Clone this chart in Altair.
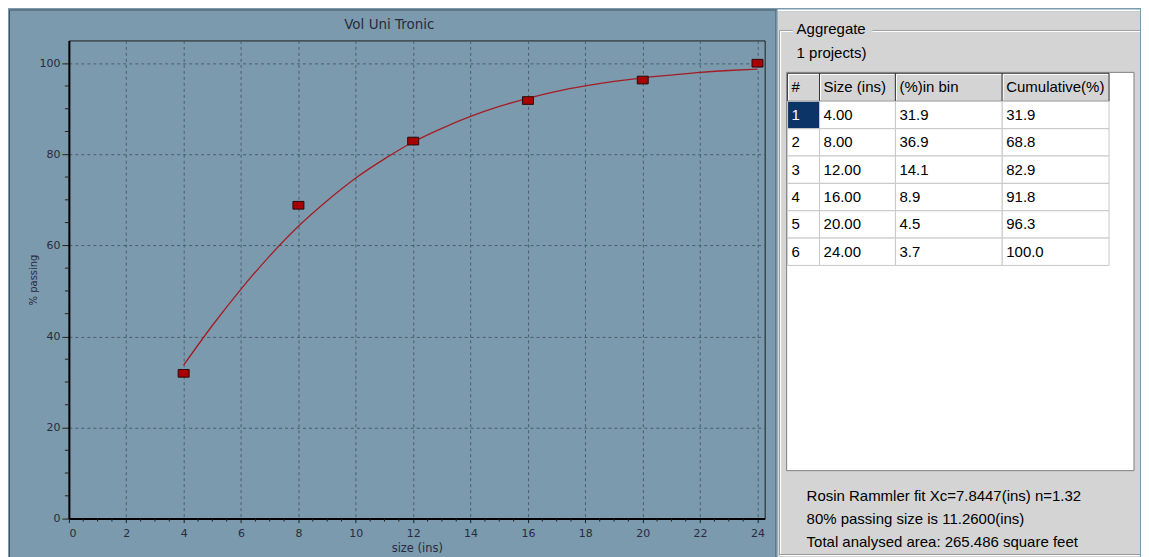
import altair as alt
import pandas as pd

# ---------------- data ----------------
TITLE = "Vol Uni Tronic"
ROW_IDS = [1, 2, 3, 4, 5, 6]
SIZES = [4.0, 8.0, 12.0, 16.0, 20.0, 24.0]
IN_BIN = [31.9, 36.9, 14.1, 8.9, 4.5, 3.7]
CUMULATIVE = [31.9, 68.8, 82.9, 91.8, 96.3, 100.0]
# Rosin-Rammler fit curve at each inch
FIT_X = [4, 5, 6, 7, 8, 9, 10, 11, 12, 13, 14, 15, 16, 17, 18, 19, 20, 21, 22, 23, 24]
FIT_Y = [33.7, 42.4, 50.4, 57.7, 64.2, 69.8, 74.8, 79.0, 82.7, 85.7, 88.3,
         90.5, 92.3, 93.8, 95.0, 96.0, 96.8, 97.4, 98.0, 98.4, 98.7]
X_TICKS = [0, 2, 4, 6, 8, 10, 12, 14, 16, 18, 20, 22, 24]
Y_TICKS = [0, 20, 40, 60, 80, 100]
X_MINOR = [i / 2 for i in range(49) if i % 4]
Y_MINOR = [v for v in range(0, 105, 5) if v % 20]
HEADERS = ["#", "Size (ins)", "(%)in bin", "Cumulative(%)"]
GROUP_LABEL = "Aggregate"
PROJECTS_LABEL = "1 projects)"
INFO_LINES = ["Rosin Rammler fit Xc=7.8447(ins) n=1.32",
              "80% passing size is 11.2600(ins)",
              "Total analysed area: 265.486 square feet"]

# ---------------- style ----------------
FONT = "DejaVu Sans"
UIFONT = "Liberation Sans"
BLUE = "#7b9aae"
GRID = "#4b5d6b"
LBL = "#2a2a40"
PANEL = "#d4d4d4"
PW, PH = 697, 479
TOP_EXT = 31  # chart area above the plot (title strip)
LEFT_EXT = 60

xs = alt.Scale(domain=[0, 24.25], nice=False, zero=False)
ys = alt.Scale(domain=[0, 105], nice=False, zero=False)

xaxis = alt.Axis(values=X_TICKS, title="size (ins)", grid=True, gridDash=[3, 3],
                 gridColor=GRID, gridWidth=1, domainColor="black", domainWidth=2,
                 tickColor="#222222", tickSize=4, labelFont=FONT, labelFontSize=11,
                 labelColor=LBL, labelPadding=5, titleFont=FONT, titleFontSize=11.5,
                 titleFontWeight="normal", titleColor=LBL, titlePadding=4)
yaxis = alt.Axis(values=Y_TICKS, title="% passing", grid=True, gridDash=[3, 3],
                 gridColor=GRID, gridWidth=1, domainColor="black", domainWidth=2,
                 tickColor="#222222", tickSize=7, labelFont=FONT, labelFontSize=11,
                 labelColor=LBL, labelPadding=2, titleFont=FONT, titleFontSize=10,
                 titleFontWeight="normal", titleColor=LBL, titleX=-35,
                 titleBaseline="middle")

pts = pd.DataFrame({"size": SIZES, "cum": CUMULATIVE})
fit = pd.DataFrame({"size": FIT_X, "cum": FIT_Y})
one = pd.DataFrame({"k": [0]})

curve = alt.Chart(fit).mark_line(color="#a51d24", strokeWidth=1.3, interpolate="monotone").encode(
    x=alt.X("size:Q", scale=xs, axis=xaxis),
    y=alt.Y("cum:Q", scale=ys, axis=yaxis),
)
RECT_PATH = "M-1,-0.7L1,-0.7L1,0.7L-1,0.7Z"
points = alt.Chart(pts).mark_point(shape=RECT_PATH, size=121, filled=True, fill="#a80000",
                                   stroke="#2b0a0a", strokeWidth=1, opacity=1).encode(
    x=alt.X("size:Q", scale=xs), y=alt.Y("cum:Q", scale=ys))

xminor = alt.Chart(pd.DataFrame({"v": X_MINOR})).mark_rule(color="#222222", strokeWidth=1).encode(
    x=alt.X("v:Q", scale=xs), y=alt.value(PH), y2=alt.value(PH + 3))
yminor = alt.Chart(pd.DataFrame({"v": Y_MINOR})).mark_rule(color="#222222", strokeWidth=1).encode(
    y=alt.Y("v:Q", scale=ys), x=alt.value(-4), x2=alt.value(0))

title_txt = alt.Chart(one).mark_text(text=TITLE, font=FONT, fontSize=13.5, color="#2a2a3a",
                                     align="center", baseline="middle").encode(
    x=alt.value(321), y=alt.value(-15))

border_top = alt.Chart(one).mark_rule(color="#44535e", strokeWidth=1).encode(
    x=alt.value(-LEFT_EXT + 0.5), x2=alt.value(709), y=alt.value(-TOP_EXT + 0.5))
border_left = alt.Chart(one).mark_rule(color="#44535e", strokeWidth=1).encode(
    x=alt.value(-LEFT_EXT + 0.5), y=alt.value(-TOP_EXT + 0.5), y2=alt.value(518))
border_right = alt.Chart(one).mark_rule(color="#5d7384", strokeWidth=1).encode(
    x=alt.value(708), y=alt.value(-TOP_EXT + 0.5), y2=alt.value(518))

left = alt.layer(curve, points, xminor, yminor, title_txt, border_top, border_left, border_right).properties(
    width=PW, height=PH, view=alt.ViewBackground(stroke="#1e1e1e", strokeWidth=1))

# ---------------- right panel (pixel layout, y measured from chart top) ----------------
RW, RH = 363, 549
RX = alt.Scale(domain=[0, RW], nice=False, zero=False)
RY = alt.Scale(domain=[RH, TOP_EXT], nice=False, zero=False)
COL_EDGES = [10, 42, 118, 225, 332]
TABLE_BOX = (9, 357, 63, 462)
HEAD_TOP, HEAD_BOT, ROW_H = 64, 92, 27.4
TEXT_PAD = 4

bg = [
    dict(x0=0, x1=RW, y0=0, y1=2, fill="white"),
    dict(x0=0, x1=RW, y0=2, y1=RH, fill=PANEL),
]
rects = [
    dict(x0=TABLE_BOX[0], x1=TABLE_BOX[1], y0=TABLE_BOX[2], y1=TABLE_BOX[3], fill="white", stroke="#808080"),
]
texts = []
for c, h in enumerate(HEADERS):
    rects.append(dict(x0=COL_EDGES[c], x1=COL_EDGES[c + 1], y0=HEAD_TOP, y1=HEAD_BOT,
                      fill=PANEL, stroke="#303030"))
    texts.append(dict(x=COL_EDGES[c] + TEXT_PAD, y=(HEAD_TOP + HEAD_BOT) / 2, text=h, color="black"))
for r in range(len(ROW_IDS)):
    vals = [str(ROW_IDS[r]), f"{SIZES[r]:.2f}", f"{IN_BIN[r]:.1f}", f"{CUMULATIVE[r]:.1f}"]
    y0 = HEAD_BOT + r * ROW_H
    for c, v in enumerate(vals):
        sel = (r == 0 and c == 0)
        rects.append(dict(x0=COL_EDGES[c], x1=COL_EDGES[c + 1], y0=y0, y1=y0 + ROW_H,
                          fill="#0c3466" if sel else "white", stroke="#c8c8c8"))
        texts.append(dict(x=COL_EDGES[c] + TEXT_PAD, y=y0 + ROW_H / 2, text=v,
                          color="white" if sel else "black"))
texts.append(dict(x=19, y=20, text=GROUP_LABEL, color="black"))
texts.append(dict(x=19, y=44, text=PROJECTS_LABEL, color="black"))
for i, line in enumerate(INFO_LINES):
    texts.append(dict(x=29, y=487 + i * 23, text=line, color="black"))

rules = [
    dict(x0=2, x1=15, y0=21, y1=21, c="#9a9a9a"),
    dict(x0=95, x1=RW, y0=21, y1=21, c="#9a9a9a"),
    dict(x0=2, x1=15, y0=22, y1=22, c="white"),
    dict(x0=95, x1=RW, y0=22, y1=22, c="white"),
    dict(x0=2, x1=2, y0=21, y1=547, c="#9a9a9a"),
    dict(x0=3, x1=3, y0=22, y1=547, c="white"),
    dict(x0=2, x1=RW, y0=546, y1=546, c="#9a9a9a"),
    dict(x0=2, x1=RW, y0=547, y1=547, c="white"),
]
for c in range(len(HEADERS)):
    rules.append(dict(x0=COL_EDGES[c] + 1, x1=COL_EDGES[c + 1] - 1, y0=HEAD_TOP + 1, y1=HEAD_TOP + 1, c="white"))
    rules.append(dict(x0=COL_EDGES[c] + 1, x1=COL_EDGES[c] + 1, y0=HEAD_TOP + 1, y1=HEAD_BOT - 1, c="white"))

bg_layer = alt.Chart(pd.DataFrame(bg)).mark_rect().encode(
    x=alt.X("x0:Q", scale=RX, axis=None), x2="x1:Q",
    y=alt.Y("y0:Q", scale=RY, axis=None), y2="y1:Q",
    fill=alt.Fill("fill:N", scale=None))
rect_layer = alt.Chart(pd.DataFrame(rects)).mark_rect(strokeWidth=1).encode(
    x=alt.X("x0:Q", scale=RX, axis=None), x2="x1:Q",
    y=alt.Y("y0:Q", scale=RY, axis=None), y2="y1:Q",
    fill=alt.Fill("fill:N", scale=None), stroke=alt.Stroke("stroke:N", scale=None))
rule_layer = alt.Chart(pd.DataFrame(rules)).mark_rule(strokeWidth=1).encode(
    x=alt.X("x0:Q", scale=RX, axis=None), x2="x1:Q",
    y=alt.Y("y0:Q", scale=RY, axis=None), y2="y1:Q",
    color=alt.Color("c:N", scale=None))
text_layer = alt.Chart(pd.DataFrame(texts)).mark_text(
    align="left", baseline="middle", font=UIFONT, fontSize=15).encode(
    x=alt.X("x:Q", scale=RX, axis=None), y=alt.Y("y:Q", scale=RY, axis=None),
    text="text:N", color=alt.Color("color:N", scale=None))

right = alt.layer(bg_layer, rect_layer, rule_layer, text_layer).properties(
    width=RW, height=RH - TOP_EXT, view=alt.ViewBackground(strokeWidth=0, stroke="transparent"))

chart = alt.hconcat(left, right, spacing=0).properties(
    padding={"left": 0, "top": 0, "right": 0, "bottom": 0}, background=BLUE)
chart.save("out.html", embed_options={"renderer": "svg", "actions": False})
